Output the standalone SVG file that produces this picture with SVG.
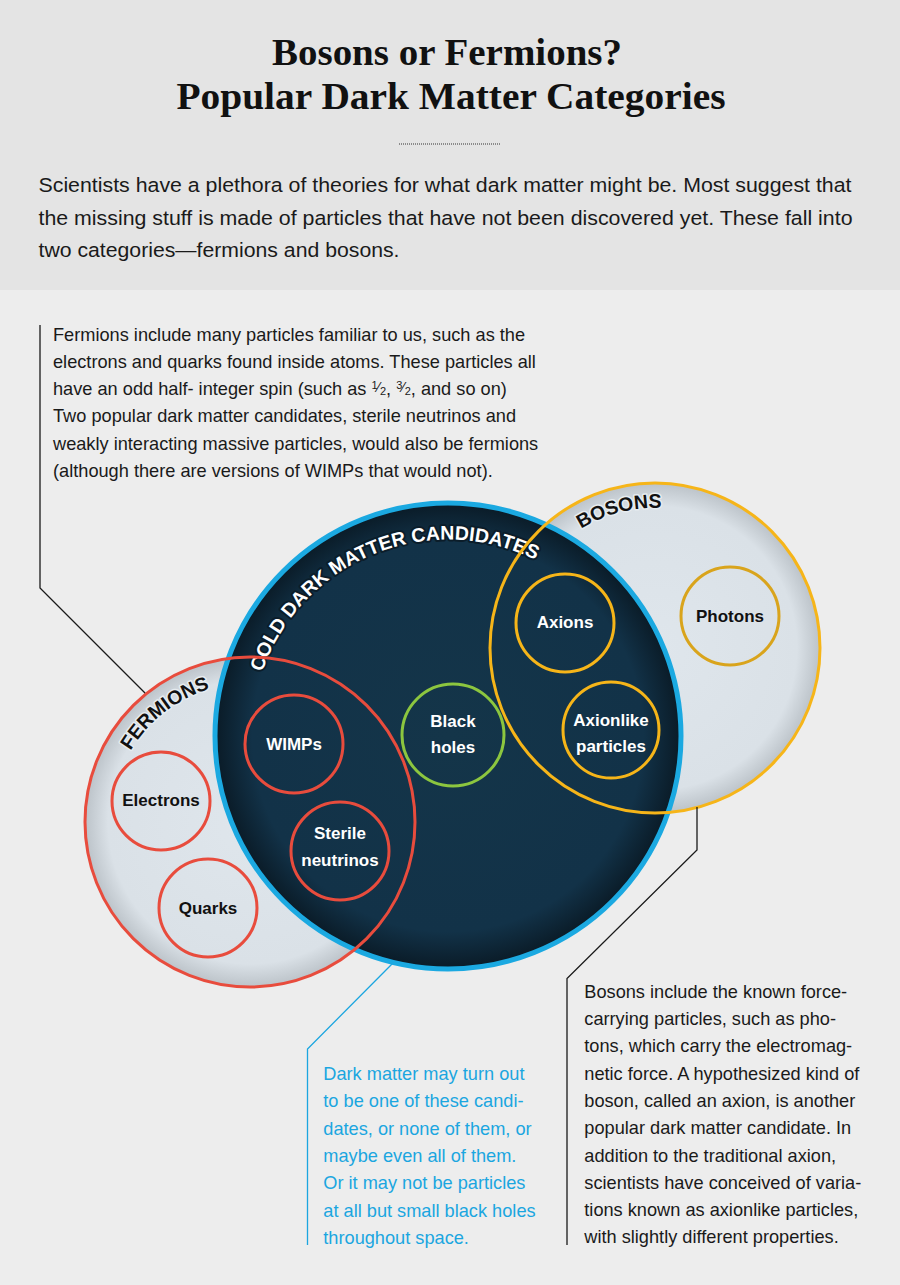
<svg xmlns="http://www.w3.org/2000/svg" width="900" height="1285" viewBox="0 0 900 1285">
<style>
.title{font-family:"Liberation Serif","Times New Roman",serif;font-weight:bold;font-size:38px;fill:#111;text-anchor:middle}
.intro{font-family:"Liberation Sans",Arial,sans-serif;font-size:20.5px;fill:#1a1a1a}
.body{font-family:"Liberation Sans",Arial,sans-serif;font-size:18.2px;fill:#1a1a1a}
.blue{fill:#1ba6e0}
.lbl{font-family:"Liberation Sans",Arial,sans-serif;font-weight:bold;font-size:17px;text-anchor:middle}
.lw{fill:#ffffff}
.lb{fill:#111111}
.arc{font-family:"Liberation Sans",Arial,sans-serif;font-weight:bold;font-size:19.5px;text-anchor:middle;paint-order:stroke;stroke-linejoin:round}
.ring{fill:none;stroke-width:3}
.red{stroke:#e84c3d}
.yel{stroke:#f6b519}
.gold{stroke:#d9a41c}
.grn{stroke:#8cc63f}
.lead{fill:none;stroke:#1a1a1a;stroke-width:1.3}
</style>
<defs>
<radialGradient id="light" cx="0.5" cy="0.5" r="0.5">
<stop offset="0" stop-color="#dfe6ec"/>
<stop offset="0.86" stop-color="#dae1e7"/>
<stop offset="1" stop-color="#bcc3c9"/>
</radialGradient>
<radialGradient id="dark" cx="0.5" cy="0.5" r="0.5">
<stop offset="0" stop-color="#143549"/>
<stop offset="0.84" stop-color="#123248"/>
<stop offset="1" stop-color="#0a1b27"/>
</radialGradient>
<path id="pCold" d="M 281.9 841 A 196.5 196.5 0 1 1 640 694.1"/>
<path id="pFerm" d="M 157 925.3 A 139 139 0 1 1 372.7 756.7"/>
<path id="pBos" d="M 527.7 706.3 A 140 140 0 1 1 794.5 636.8"/>
</defs>

<rect x="0" y="0" width="900" height="1285" fill="#ededed"/>
<rect x="0" y="0" width="900" height="290" fill="#e4e4e4"/>

<g id="header">
<text class="title" x="447" y="65" textLength="350" lengthAdjust="spacingAndGlyphs">Bosons or Fermions?</text>
<text class="title" x="451" y="109" textLength="549" lengthAdjust="spacingAndGlyphs">Popular Dark Matter Categories</text>
<line x1="399" y1="144" x2="501" y2="144" stroke="#333" stroke-width="1.2" stroke-dasharray="1 1"/>
<text class="intro" x="38.5" y="192.3" textLength="813" lengthAdjust="spacingAndGlyphs">Scientists have a plethora of theories for what dark matter might be. Most suggest that</text>
<text class="intro" x="38.5" y="224.5" textLength="814" lengthAdjust="spacingAndGlyphs">the missing stuff is made of particles that have not been discovered yet. These fall into</text>
<text class="intro" x="38.5" y="256.7" textLength="361" lengthAdjust="spacingAndGlyphs">two categories—fermions and bosons.</text>
</g>

<g id="fermions">
<circle cx="250" cy="822" r="165" fill="url(#light)"/>
</g>
<g id="bosons">
<circle cx="655" cy="648" r="165" fill="url(#light)"/>
</g>
<g id="cold-dark-matter">
<circle cx="448" cy="736" r="233" fill="url(#dark)" stroke="#1ba9e1" stroke-width="5"/>
<text class="arc lw" stroke="#0b1d2a" stroke-width="4"><textPath href="#pCold" startOffset="50%">COLD DARK MATTER CANDIDATES</textPath></text>
</g>
<g id="fermions-ring">
<circle class="ring red" cx="250" cy="822" r="165"/>
<text class="arc lb" stroke="#e6ecf0" stroke-width="3"><textPath href="#pFerm" startOffset="50%">FERMIONS</textPath></text>
</g>
<g id="bosons-ring">
<circle class="ring yel" cx="655" cy="648" r="165"/>
<text class="arc lb" stroke="#e6ecf0" stroke-width="3"><textPath href="#pBos" startOffset="50%">BOSONS</textPath></text>
</g>

<g id="electrons">
<circle class="ring red" cx="161" cy="801" r="49"/>
<text class="lbl lb" x="161" y="806">Electrons</text>
</g>
<g id="quarks">
<circle class="ring red" cx="208" cy="908" r="49"/>
<text class="lbl lb" x="208" y="914">Quarks</text>
</g>
<g id="wimps">
<circle class="ring red" cx="294" cy="744" r="49"/>
<text class="lbl lw" x="294" y="750">WIMPs</text>
</g>
<g id="sterile-neutrinos">
<circle class="ring red" cx="340" cy="851" r="49"/>
<text class="lbl lw" x="340" y="839">Sterile</text>
<text class="lbl lw" x="340" y="866">neutrinos</text>
</g>
<g id="black-holes">
<circle class="ring grn" cx="453" cy="735" r="51"/>
<text class="lbl lw" x="453" y="727">Black</text>
<text class="lbl lw" x="453" y="753">holes</text>
</g>
<g id="axions">
<circle class="ring yel" cx="565" cy="623" r="49"/>
<text class="lbl lw" x="565" y="628">Axions</text>
</g>
<g id="axionlike-particles">
<circle class="ring yel" cx="611" cy="730" r="48"/>
<text class="lbl lw" x="611" y="726">Axionlike</text>
<text class="lbl lw" x="611" y="752">particles</text>
</g>
<g id="photons">
<circle class="ring gold" cx="730" cy="616" r="49"/>
<text class="lbl lb" x="730" y="622">Photons</text>
</g>

<g id="connectors">
<polyline class="lead" points="40,325 40,588 145,693"/>
<polyline class="lead" points="393,963 307.5,1049 307.5,1245" style="stroke:#1ba6e0"/>
<polyline class="lead" points="697,807 697,850 567,978.5 567,1245"/>
</g>

<g id="fermion-note">
<text class="body" x="53" y="340.7">Fermions include many particles familiar to us, such as the</text>
<text class="body" x="53" y="367.9">electrons and quarks found inside atoms. These particles all</text>
<text class="body" x="53" y="395.1">have an odd half- integer spin (such as <tspan font-size="11" dy="-6">1</tspan><tspan font-size="14" dy="3">⁄</tspan><tspan font-size="11" dy="3">2</tspan>, <tspan font-size="11" dy="-6">3</tspan><tspan font-size="14" dy="3">⁄</tspan><tspan font-size="11" dy="3">2</tspan>, and so on)</text>
<text class="body" x="53" y="422.3">Two popular dark matter candidates, sterile neutrinos and</text>
<text class="body" x="53" y="449.5">weakly interacting massive particles, would also be fermions</text>
<text class="body" x="53" y="476.7">(although there are versions of WIMPs that would not).</text>
</g>

<g id="dark-matter-note">
<text class="body blue" x="323.3" y="1080">Dark matter may turn out</text>
<text class="body blue" x="323.3" y="1107.3">to be one of these candi-</text>
<text class="body blue" x="323.3" y="1134.6">dates, or none of them, or</text>
<text class="body blue" x="323.3" y="1161.9">maybe even all of them.</text>
<text class="body blue" x="323.3" y="1189.2">Or it may not be particles</text>
<text class="body blue" x="323.3" y="1216.5">at all but small black holes</text>
<text class="body blue" x="323.3" y="1243.8">throughout space.</text>
</g>

<g id="boson-note">
<text class="body" x="584.3" y="997.7">Bosons include the known force-</text>
<text class="body" x="584.3" y="1025">carrying particles, such as pho-</text>
<text class="body" x="584.3" y="1052.3">tons, which carry the electromag-</text>
<text class="body" x="584.3" y="1079.6">netic force. A hypothesized kind of</text>
<text class="body" x="584.3" y="1106.9">boson, called an axion, is another</text>
<text class="body" x="584.3" y="1134.2">popular dark matter candidate. In</text>
<text class="body" x="584.3" y="1161.5">addition to the traditional axion,</text>
<text class="body" x="584.3" y="1188.8">scientists have conceived of varia-</text>
<text class="body" x="584.3" y="1216.1">tions known as axionlike particles,</text>
<text class="body" x="584.3" y="1243.4">with slightly different properties.</text>
</g>
</svg>
